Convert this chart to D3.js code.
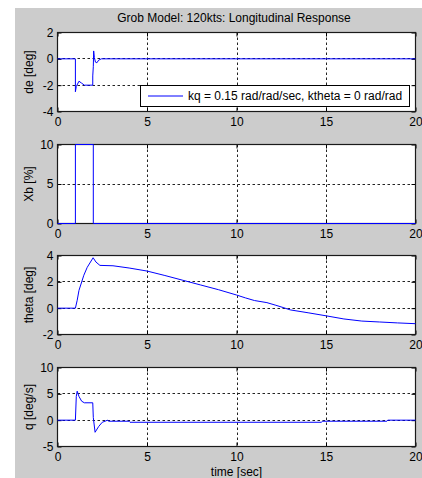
<!DOCTYPE html>
<html><head><meta charset="utf-8">
<script src="https://cdn.jsdelivr.net/npm/d3@7"></script>
<style>
html,body{margin:0;padding:0;background:#fff;}
svg{display:block;}
text{font-family:"Liberation Sans",Arial,sans-serif;font-size:12px;fill:#000;}
</style>
</head><body>
<svg id="c" width="422" height="478"></svg>
<script>
// ---- data ----
const titleText = "Grob Model: 120kts: Longitudinal Response";
const xLabel = "time [sec]";
const legendLabel = "kq = 0.15 rad/rad/sec, ktheta = 0 rad/rad";
const xDomain = [0, 20];
const xTicks = [0, 5, 10, 15, 20];

const deLabel = "de [deg]";
const deDomain = [-4, 2];
const deTicks = [-4, -2, 0, 2];
const deTime   = [0, 1.0, 1.0, 1.05, 1.2, 1.35, 1.5, 1.97, 1.97, 2.0, 2.02, 2.06, 2.12, 2.2, 2.3, 2.45, 20];
const deValues = [0, 0, -2.5, -2.1, -1.7, -1.85, -2.0, -2.0, -1.3, -0.6, 0.6, 0.1, -0.25, -0.3, -0.1, 0, 0];

const xbLabel = "Xb [%]";
const xbDomain = [0, 10];
const xbTicks = [0, 5, 10];
const xbTime   = [0, 1, 1, 2, 2, 20];
const xbValues = [0, 0, 10, 10, 0, 0];

const thetaLabel = "theta [deg]";
const thetaDomain = [-2, 4];
const thetaTicks = [-2, 0, 2, 4];
const thetaTime   = [0, 1.0, 1.1, 1.2, 1.47, 1.66, 1.99, 2.15, 2.37, 3.1, 4.0, 5.0, 6.0, 7.0, 8.0, 9.0, 10.0, 10.5, 11.0, 11.7, 12.2, 12.6, 13.0, 14.0, 15.0, 16.0, 17.0, 18.0, 19.0, 20.0];
const thetaValues = [0, 0, 0.6, 1.35, 2.5, 3.1, 3.83, 3.5, 3.25, 3.22, 3.05, 2.82, 2.48, 2.12, 1.76, 1.4, 1.0, 0.78, 0.58, 0.42, 0.22, 0.05, -0.13, -0.35, -0.58, -0.82, -0.98, -1.05, -1.12, -1.18];

const qLabel = "q [deg/s]";
const qDomain = [-5, 10];
const qTicks = [-5, 0, 5, 10];
const qTime   = [0, 1.0, 1.05, 1.1, 1.2, 1.35, 1.5, 1.97, 2.0, 2.1, 2.3, 2.5, 2.8, 2.85, 4.0, 4.05, 14.75, 14.8, 18.4, 18.45, 20];
const qValues = [0, 0, 4.5, 5.5, 4.5, 3.6, 3.3, 3.3, 0.5, -2.3, -1.2, -0.4, 0, -0.2, -0.2, -0.4, -0.4, -0.2, -0.2, 0, 0];

// ---- layout ----
const svg = d3.select("#c");
const L = 57.5, R = 415.5, H = 79;
const tops = [32.5, 144.5, 255.5, 367.5];
const lineColor = "#0000ff";

svg.append("rect").attr("x", 15).attr("y", 8).attr("width", 407).attr("height", 470).attr("fill", "#cccccc");

svg.append("text").attr("x", 234).attr("y", 22).attr("text-anchor", "middle").text(titleText);

const x = d3.scaleLinear().domain(xDomain).range([L, R]);

const panels = [
  {label: deLabel, dom: deDomain, ticks: deTicks, t: deTime, v: deValues},
  {label: xbLabel, dom: xbDomain, ticks: xbTicks, t: xbTime, v: xbValues},
  {label: thetaLabel, dom: thetaDomain, ticks: thetaTicks, t: thetaTime, v: thetaValues},
  {label: qLabel, dom: qDomain, ticks: qTicks, t: qTime, v: qValues}
];

panels.forEach((p, i) => {
  const top = tops[i], bot = top + H;
  const y = d3.scaleLinear().domain(p.dom).range([bot, top]);
  const g = svg.append("g");
  g.append("rect").attr("x", L).attr("y", top).attr("width", R - L).attr("height", H).attr("fill", "#fff");

  // grid
  const gridStyle = sel => sel.attr("stroke", "#222").attr("stroke-width", 1).attr("stroke-dasharray", "2.5,2.5").attr("fill", "none");
  g.selectAll(".gx").data(xTicks.slice(1, -1)).enter().append("line")
    .attr("x1", d => Math.round(x(d)) + 0.5).attr("x2", d => Math.round(x(d)) + 0.5)
    .attr("y1", top).attr("y2", bot).call(gridStyle);
  g.selectAll(".gy").data(p.ticks.slice(1, -1)).enter().append("line")
    .attr("y1", d => Math.round(y(d) - 0.5) + 0.5).attr("y2", d => Math.round(y(d) - 0.5) + 0.5)
    .attr("x1", L).attr("x2", R).call(gridStyle);

  // axes (inward ticks)
  const styleAxis = sel => { sel.select(".domain").remove(); sel.selectAll("line").attr("stroke", "#000"); sel.selectAll("text").attr("fill", "#000").style("font-size", "12px").style("font-family", '"Liberation Sans",Arial,sans-serif'); };
  g.append("g").attr("transform", `translate(0,${bot})`)
    .call(d3.axisBottom(x).tickValues(xTicks).tickFormat(d3.format("d")).tickSizeInner(-4).tickSizeOuter(0).tickPadding(6)).call(styleAxis);
  g.append("g").attr("transform", `translate(0,${top})`)
    .call(d3.axisTop(x).tickValues(xTicks).tickFormat("").tickSizeInner(-4).tickSizeOuter(0)).call(styleAxis);
  g.append("g").attr("transform", `translate(${L},0)`)
    .call(d3.axisLeft(y).tickValues(p.ticks).tickFormat(d3.format("d")).tickSizeInner(-4).tickSizeOuter(0).tickPadding(4)).call(styleAxis);
  g.append("g").attr("transform", `translate(${R},0)`)
    .call(d3.axisRight(y).tickValues(p.ticks).tickFormat("").tickSizeInner(-4).tickSizeOuter(0)).call(styleAxis);

  // minus sign as hyphen like MATLAB
  g.selectAll("text").each(function(){ const s = d3.select(this); s.text(s.text().replace("\u2212", "-")); });

  // border
  g.append("rect").attr("x", L).attr("y", top).attr("width", R - L).attr("height", H)
    .attr("fill", "none").attr("stroke", "#1a1a1a").attr("stroke-width", 1.2);

  // clip + line
  const cid = "clip" + i;
  svg.append("clipPath").attr("id", cid).append("rect")
    .attr("x", L - 1).attr("y", top - 1).attr("width", R - L + 2).attr("height", H + 2);
  const pts = p.t.map((t, k) => [t, p.v[k]]);
  g.append("path").attr("clip-path", `url(#${cid})`)
    .attr("d", d3.line().x(d => x(d[0])).y(d => y(d[1]))(pts))
    .attr("fill", "none").attr("stroke", lineColor).attr("stroke-width", 1);

  // y label
  g.append("text").attr("transform", `translate(32.5,${top + H / 2}) rotate(-90)`)
    .attr("text-anchor", "middle").text(p.label);

  if (i === 0) {
    const lg = g.append("g");
    lg.append("rect").attr("x", 140.5).attr("y", 85.5).attr("width", 269).attr("height", 21)
      .attr("fill", "#fff").attr("stroke", "#000").attr("stroke-width", 1);
    lg.append("line").attr("x1", 148).attr("x2", 183).attr("y1", 96).attr("y2", 96)
      .attr("stroke", lineColor).attr("stroke-width", 1);
    lg.append("text").attr("x", 188).attr("y", 100).text(legendLabel);
  }
});

svg.append("text").attr("x", (L + R) / 2).attr("y", 476).attr("text-anchor", "middle").text(xLabel);
</script>
</body></html>
